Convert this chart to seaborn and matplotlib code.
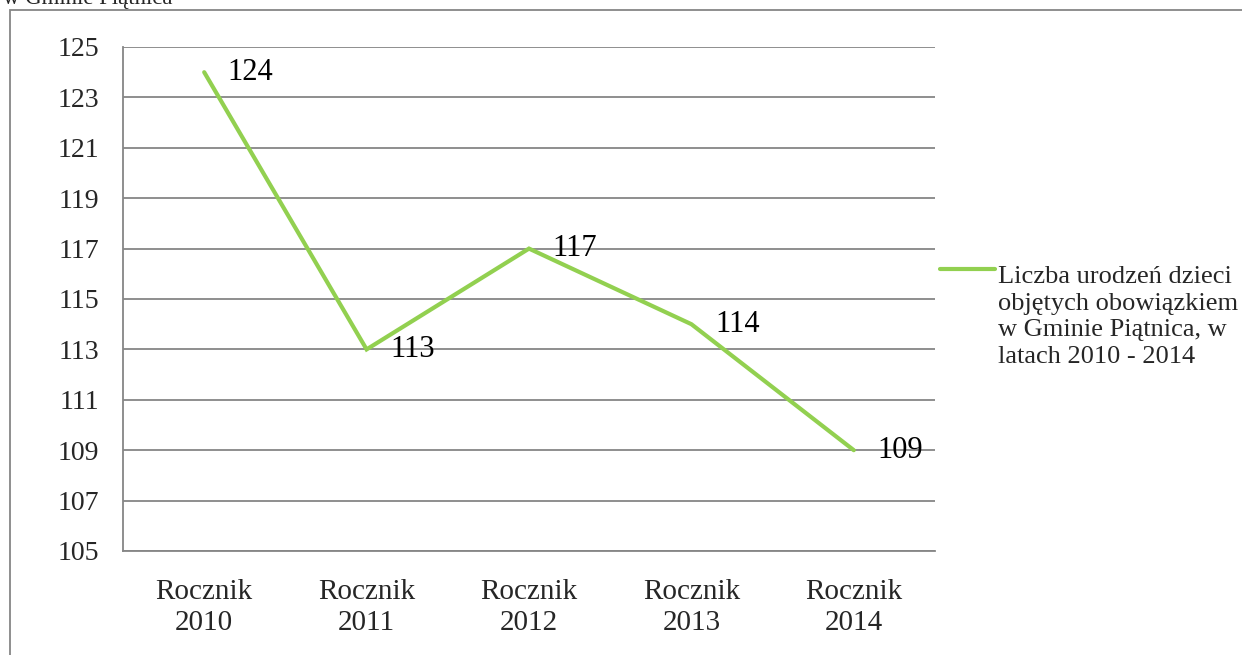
import matplotlib
matplotlib.use("Agg")
import matplotlib.pyplot as plt
import numpy as np
import pandas as pd
import seaborn as sns
from matplotlib.patches import Rectangle

categories = ["Rocznik\n2010", "Rocznik\n2011", "Rocznik\n2012", "Rocznik\n2013", "Rocznik\n2014"]
births = [124, 113, 117, 114, 109]
y_ticks = [105, 107, 109, 111, 113, 115, 117, 119, 121, 123, 125]
series_label = "Liczba urodzeń dzieci\nobjętych obowiązkiem\nw Gminie Piątnica, w\nlatach 2010 - 2014"

df = pd.DataFrame({"rocznik": categories, "liczba": births})

sns.set_style("white")
plt.rcParams["font.family"] = ["Liberation Serif", "DejaVu Serif"]

W, H = 1242, 655
fig = plt.figure(figsize=(W / 100, H / 100), dpi=100)
ax = fig.add_axes([123 / W, 1 - 551 / H, (935 - 123) / W, (551 - 47) / H])

grid_col = "#868686"
green = "#92D050"

pos = list(range(len(categories)))
sns.lineplot(x=pos, y=df["liczba"], ax=ax, color=green, linewidth=3,
             label=series_label, solid_joinstyle="miter")

for x, v in zip(pos, births):
    ax.annotate(str(v), (x, v), xytext=(17, 0), textcoords="offset points",
                ha="left", va="center", fontsize=22, color="black")

ax.set_xlim(-0.5, len(categories) - 0.5)
ax.set_ylim(105, 125)
ax.set_yticks(y_ticks)
ax.set_yticklabels([str(t) for t in y_ticks], fontsize=20)
ax.set_xticks(pos)
ax.set_xticklabels(categories, fontsize=21, linespacing=1.25)
ax.set_xticks([p - 0.5 for p in pos] + [len(pos) - 0.5], minor=True)
ax.tick_params(axis="x", which="major", length=0, pad=20)
ax.tick_params(axis="x", which="minor", length=5, width=1.3, color=grid_col, direction="out")
ax.tick_params(axis="y", length=6, width=1.3, color=grid_col, direction="out", pad=11)
ax.yaxis.grid(True, color=grid_col, linewidth=1.3)
ax.set_axisbelow(True)
ax.set_xlabel("")
ax.set_ylabel("")
for side in ["top", "right"]:
    ax.spines[side].set_visible(False)
for side in ["left", "bottom"]:
    ax.spines[side].set_color(grid_col)
    ax.spines[side].set_linewidth(1.3)

leg = ax.legend(loc="center left", bbox_to_anchor=(940 / W, 1 - 317 / H),
                bbox_transform=fig.transFigure, frameon=False, fontsize=19,
                handlelength=2.08, handletextpad=0.12, borderaxespad=0, borderpad=0)
for t in leg.get_texts():
    t.set_linespacing(1.26)
# Excel puts the legend key next to the first line of a wrapped label
key = leg.get_lines()[0]
key.set_ydata(np.asarray(key.get_ydata()) + 34)

# outer chart border, cut off at the right and bottom
fig.patches.append(Rectangle((10 / W, -0.1), 1.2, 1.1 - 10 / H, transform=fig.transFigure,
                             fill=False, edgecolor=grid_col, linewidth=1.3))
fig.text(3 / W, 1 - 4 / H, "w Gminie Piątnica", fontsize=16.5, ha="left", va="baseline")

fig.savefig("out.png", dpi=100)
